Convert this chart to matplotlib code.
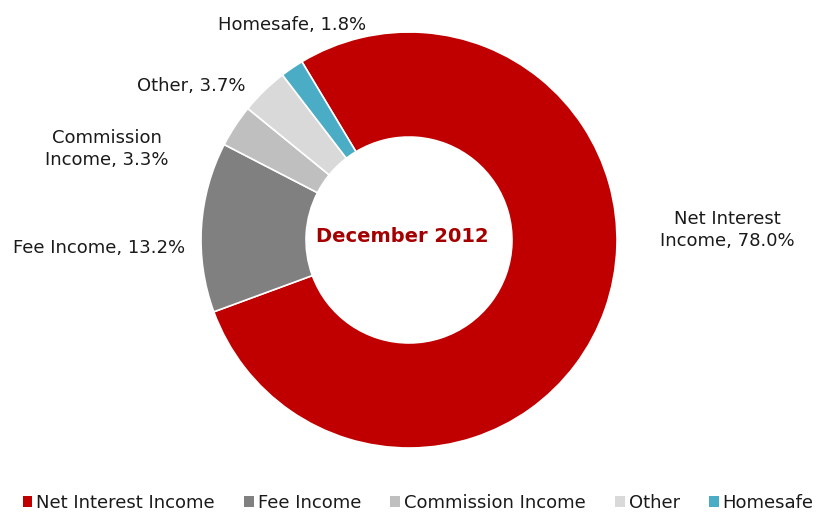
import matplotlib
matplotlib.use("Agg")
import matplotlib.pyplot as plt
from matplotlib.patches import Patch

# #################### Data #################### #
categories = ["Net Interest Income", "Fee Income", "Commission Income", "Other", "Homesafe"]
shares = [78.0, 13.2, 3.3, 3.7, 1.8]
slice_labels = ["Net Interest\nIncome, 78.0%", "Fee Income, 13.2%", "Commission\nIncome, 3.3%",
                "Other, 3.7%", "Homesafe, 1.8%"]
colors = ["#C00000", "#808080", "#BFBFBF", "#D9D9D9", "#4BACC6"]
center_title = "December 2012"

plt.rcParams['font.family'] = ['DejaVu Sans']

W, H = 822, 514
fig = plt.figure(figsize=(W / 100, H / 100), dpi=100)
# Axes in pixel units so the ring can be placed like the reference
ax = fig.add_axes([0, 0, 1, 1])

cx, cy, r = 409, H - 240, 208
wedges, _ = ax.pie(shares, colors=colors, startangle=121, counterclock=False,
                   center=(cx, cy), radius=r, frame=True,
                   wedgeprops=dict(width=r * 0.505, edgecolor='white', linewidth=1.2))
ax.set_xlim(0, W)
ax.set_ylim(0, H)
ax.set_aspect('equal')
ax.axis('off')

# Data labels placed as in the reference
label_pos = [(727, 230), (99, 248), (107, 149), (191, 86), (292, 25)]
for text, (x, y) in zip(slice_labels, label_pos):
    ax.text(x, H - y, text, ha='center', va='center', fontsize=13, color='#1a1a1a',
            linespacing=1.3)

ax.text(402, H - 236, center_title, ha='center', va='center', fontsize=14,
        color='#A50000', fontweight='bold')

handles = [Patch(facecolor=c, edgecolor='none', label=l) for c, l in zip(colors, categories)]
fig.legend(handles=handles, loc='center', bbox_to_anchor=(418 / W, 1 - 503 / H), ncol=5,
           frameon=False, fontsize=13, handlelength=0.55, handleheight=0.55,
           handletextpad=0.22, columnspacing=1.6, borderpad=0, borderaxespad=0,
           labelcolor='#1a1a1a')

fig.savefig("out.png", dpi=100)
